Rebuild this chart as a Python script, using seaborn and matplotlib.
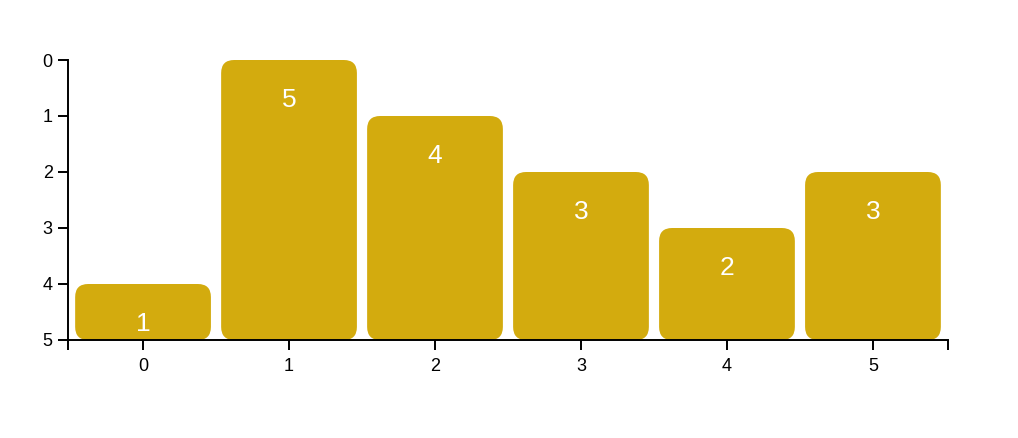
import numpy as np
import pandas as pd
import seaborn as sns
import matplotlib.pyplot as plt
from matplotlib.patches import FancyBboxPatch

# data
categories = ["0", "1", "2", "3", "4", "5"]
values = [1, 5, 4, 3, 2, 3]
ytick_labels = ["5", "4", "3", "2", "1", "0"]
bar_color = "#D3AB0E"

sns.set_style("white")
plt.rcParams['font.family'] = ['Liberation Sans', 'DejaVu Sans']

df = pd.DataFrame({"cat": categories, "value": values})

fig = plt.figure(figsize=(10.18, 4.38), dpi=100)
ax = fig.add_axes([68 / 1018, 98 / 438, 880 / 1018, 280 / 438])

sns.barplot(data=df, x="cat", y="value", color=bar_color, width=0.93,
            saturation=1, ax=ax)

xlo, xhi = -0.514, 5.514
ax.set_xlim(xlo, xhi)
ax.set_ylim(0, 5)

# px -> data scale, used for rounded corners
x_per_px = (xhi - xlo) / 880
y_per_px = 5 / 280
radius = 13 * x_per_px
aspect = y_per_px / x_per_px

# swap the square bars for rounded ones
for p in list(ax.patches):
    x, y = p.get_x(), p.get_y()
    w, h = p.get_width(), p.get_height()
    p.remove()
    ax.add_patch(FancyBboxPatch((x, y), w, h,
                                boxstyle=f"round,pad=0,rounding_size={radius}",
                                mutation_aspect=aspect,
                                facecolor=bar_color, edgecolor="none"))

for i, v in enumerate(values):
    ax.annotate(str(v), (i, v), xytext=(0, -28.5), textcoords="offset points",
                ha="center", va="center", color="white", fontsize=19)

ax.set_yticks(range(6))
ax.set_yticklabels(ytick_labels)
ax.set_xticks(range(len(categories)))
ax.set_xticklabels(categories)
ax.set_xticks([xlo, xhi], minor=True)
ax.set_xlabel("")
ax.set_ylabel("")

for side in ["top", "right"]:
    ax.spines[side].set_visible(False)
for side in ["left", "bottom"]:
    ax.spines[side].set_linewidth(1.4)
    ax.spines[side].set_color("black")

ax.tick_params(axis="both", which="both", length=7, width=1.4,
               color="black", labelcolor="black", labelsize=13, direction="out")
ax.tick_params(axis="y", pad=4)
ax.tick_params(axis="x", pad=6)
ax.tick_params(axis="x", which="minor", length=7)
ax.tick_params(left=True, bottom=True)
ax.tick_params(axis="x", which="minor", bottom=True)

fig.savefig("out.png", dpi=100)
